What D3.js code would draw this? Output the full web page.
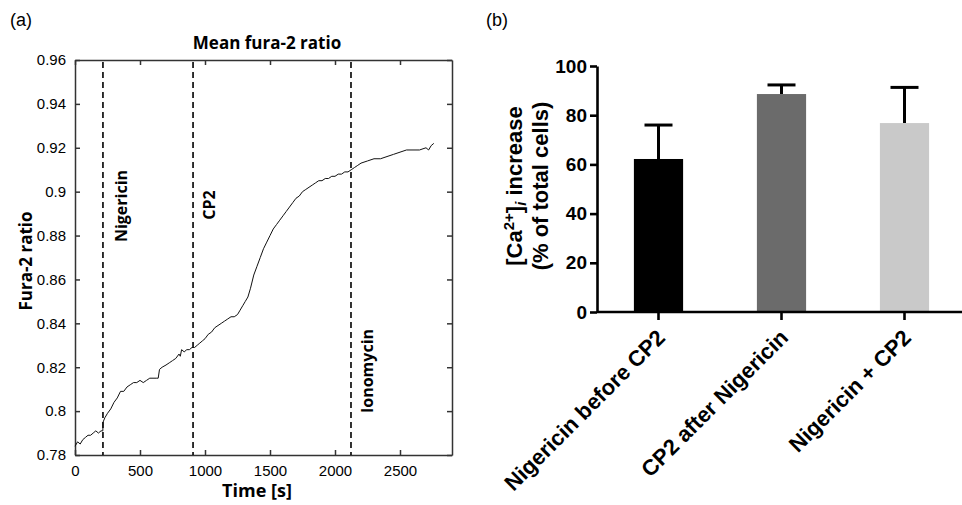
<!DOCTYPE html>
<html>
<head>
<meta charset="utf-8">
<script src="https://cdn.jsdelivr.net/npm/d3@7"></script>
<style>
    body { margin: 0; background: #fff; }
    svg { display: block; font-family: "Liberation Sans", Arial, sans-serif; }
</style>
</head>
<body>
<div id="chart"></div>
<script>
// panel (a) trace
var timeS = [0, 20, 40, 60, 80, 100, 120, 140, 160, 180, 200, 214, 216, 230, 250, 275, 300, 325, 350, 375,
    400, 425, 450, 475, 500, 525, 550, 575, 600, 625, 640, 650, 670, 700, 725, 750, 775, 800, 810, 820,
    840, 860, 880, 900, 920, 940, 960, 980, 1000, 1025, 1050, 1075, 1100, 1125, 1150, 1175, 1200, 1225, 1250, 1270,
    1290, 1310, 1330, 1350, 1375, 1400, 1425, 1450, 1475, 1500, 1525, 1550, 1575, 1600, 1625, 1650, 1675, 1700, 1725, 1750,
    1775, 1800, 1825, 1850, 1875, 1900, 1925, 1950, 1975, 2000, 2025, 2050, 2075, 2100, 2125, 2150, 2175, 2200, 2250, 2300,
    2350, 2400, 2450, 2500, 2550, 2600, 2650, 2700, 2720, 2740, 2760];
var ratio = [0.784, 0.786, 0.785, 0.787, 0.788, 0.789, 0.789, 0.790, 0.791, 0.790, 0.791, 0.791, 0.795, 0.797, 0.799, 0.801, 0.804, 0.806, 0.809, 0.809,
    0.811, 0.812, 0.813, 0.813, 0.814, 0.813, 0.814, 0.815, 0.815, 0.815, 0.815, 0.819, 0.820, 0.821, 0.822, 0.823, 0.824, 0.826, 0.825, 0.828,
    0.827, 0.828, 0.828, 0.829, 0.829, 0.830, 0.831, 0.832, 0.833, 0.835, 0.836, 0.838, 0.839, 0.840, 0.841, 0.842, 0.843, 0.843, 0.844, 0.846,
    0.848, 0.850, 0.852, 0.856, 0.862, 0.866, 0.870, 0.874, 0.877, 0.880, 0.883, 0.885, 0.887, 0.889, 0.891, 0.893, 0.895, 0.897, 0.898, 0.900,
    0.901, 0.902, 0.903, 0.904, 0.905, 0.905, 0.906, 0.906, 0.907, 0.907, 0.908, 0.908, 0.909, 0.909, 0.910, 0.911, 0.912, 0.913, 0.914, 0.915,
    0.915, 0.916, 0.917, 0.918, 0.919, 0.919, 0.919, 0.920, 0.919, 0.921, 0.922];
var markerNames = ["Nigericin", "CP2", "Ionomycin"];
var markerTimes = [215, 908, 2123];
var xTicksA = [0, 500, 1000, 1500, 2000, 2500];
var yTicksA = [0.78, 0.8, 0.82, 0.84, 0.86, 0.88, 0.9, 0.92, 0.94, 0.96];

// panel (b) bars
var groups = ["Nigericin before CP2", "CP2 after Nigericin", "Nigericin + CP2"];
var meanPct = [62.2, 88.6, 76.8];
var errTop = [76.0, 92.3, 91.3];
var barColors = ["#000000", "#6b6b6b", "#c9c9c9"];
var yTicksB = [0, 20, 40, 60, 80, 100];

var labelFont = "'Open Sans', 'Liberation Sans', sans-serif";

var svg = d3.select("#chart").append("svg")
    .attr("width", 962)
    .attr("height", 505);

// ---------- panel (a) ----------
var a = { left: 75, right: 452, top: 60, bottom: 455 };
var xA = d3.scaleLinear().domain([0, 2900]).range([a.left, a.right]);
var yA = d3.scaleLinear().domain([0.78, 0.96]).range([a.bottom, a.top]);

svg.append("text").attr("x", 10).attr("y", 26)
    .attr("font-size", 18).text("(a)");

svg.append("text").attr("x", 267).attr("y", 49)
    .attr("text-anchor", "middle").attr("font-size", 17).attr("font-weight", "bold")
    .attr("font-family", labelFont)
    .text("Mean fura-2 ratio");

var axBottom = svg.append("g").attr("transform", "translate(0," + a.bottom + ")")
    .call(d3.axisBottom(xA).tickValues(xTicksA).tickSizeInner(-5).tickSizeOuter(0).tickPadding(10)
        .tickFormat(d3.format("d")));
var axTop = svg.append("g").attr("transform", "translate(0," + a.top + ")")
    .call(d3.axisTop(xA).tickValues(xTicksA).tickSizeInner(-5).tickSizeOuter(0).tickFormat(""));
var axLeft = svg.append("g").attr("transform", "translate(" + a.left + ",0)")
    .call(d3.axisLeft(yA).tickValues(yTicksA).tickSizeInner(-5).tickSizeOuter(0).tickPadding(9)
        .tickFormat(function(d) { return String(+d.toFixed(2)); }));
var axRight = svg.append("g").attr("transform", "translate(" + a.right + ",0)")
    .call(d3.axisRight(yA).tickValues(yTicksA).tickSizeInner(-5).tickSizeOuter(0).tickFormat(""));

[axBottom, axTop, axLeft, axRight].forEach(function(g) {
    g.select(".domain").attr("stroke", "#333").attr("stroke-width", 1.5);
    g.selectAll(".tick line").attr("stroke", "#333").attr("stroke-width", 1.5);
    g.selectAll(".tick text").attr("font-size", 15).attr("fill", "#000")
        .attr("font-family", "Liberation Sans, Arial, sans-serif");
});

svg.append("text").attr("x", 257).attr("y", 497)
    .attr("text-anchor", "middle").attr("font-size", 18).attr("font-weight", "bold")
    .attr("font-family", labelFont)
    .text("Time [s]");

svg.append("text")
    .attr("transform", "translate(32,261) rotate(-90)")
    .attr("text-anchor", "middle").attr("font-size", 17).attr("font-weight", "bold")
    .attr("font-family", labelFont)
    .text("Fura-2 ratio");

svg.selectAll(".marker").data(markerTimes).enter().append("line")
    .attr("class", "marker")
    .attr("x1", function(d) { return xA(d); }).attr("x2", function(d) { return xA(d); })
    .attr("y1", a.top + 2).attr("y2", a.bottom)
    .attr("stroke", "#000").attr("stroke-width", 1.6).attr("stroke-dasharray", "6,4");

var markerY = [206, 205, 371];
var markerDx = [24, 22, 22];
svg.selectAll(".markerLabel").data(markerNames).enter().append("text")
    .attr("class", "markerLabel")
    .attr("transform", function(d, i) {
        return "translate(" + (xA(markerTimes[i]) + markerDx[i]) + "," + markerY[i] + ") rotate(-90)";
    })
    .attr("text-anchor", "middle").attr("font-size", 16).attr("font-weight", "bold")
    .attr("font-family", labelFont)
    .text(function(d) { return d; });

var line = d3.line()
    .x(function(d, i) { return xA(timeS[i]); })
    .y(function(d) { return yA(d); });

svg.append("path").datum(ratio)
    .attr("d", line)
    .attr("fill", "none").attr("stroke", "#111").attr("stroke-width", 1);

// ---------- panel (b) ----------
var b = { left: 597, right: 966, top: 66, bottom: 312 };
var xB = d3.scaleBand().domain(groups).range([b.left, b.right]).paddingInner(0.6).paddingOuter(0.3);
var yB = d3.scaleLinear().domain([0, 100]).range([b.bottom, b.top]);

svg.append("text").attr("x", 486).attr("y", 26)
    .attr("font-size", 18).text("(b)");

var capW = 28;
svg.selectAll(".errLine").data(groups).enter().append("line")
    .attr("class", "errLine")
    .attr("x1", function(d) { return xB(d) + xB.bandwidth() / 2; })
    .attr("x2", function(d) { return xB(d) + xB.bandwidth() / 2; })
    .attr("y1", function(d, i) { return yB(meanPct[i]); })
    .attr("y2", function(d, i) { return yB(errTop[i]); })
    .attr("stroke", "#000").attr("stroke-width", 3);
svg.selectAll(".errCap").data(groups).enter().append("line")
    .attr("class", "errCap")
    .attr("x1", function(d) { return xB(d) + xB.bandwidth() / 2 - capW / 2; })
    .attr("x2", function(d) { return xB(d) + xB.bandwidth() / 2 + capW / 2; })
    .attr("y1", function(d, i) { return yB(errTop[i]); })
    .attr("y2", function(d, i) { return yB(errTop[i]); })
    .attr("stroke", "#000").attr("stroke-width", 3);

svg.selectAll(".bar").data(groups).enter().append("rect")
    .attr("class", "bar")
    .attr("x", function(d) { return xB(d); })
    .attr("width", xB.bandwidth())
    .attr("y", function(d, i) { return yB(meanPct[i]); })
    .attr("height", function(d, i) { return b.bottom - yB(meanPct[i]); })
    .attr("fill", function(d, i) { return barColors[i]; });

var axB = svg.append("g").attr("transform", "translate(0," + b.bottom + ")")
    .call(d3.axisBottom(xB).tickSizeInner(8).tickSizeOuter(0).tickFormat(""));
var ayB = svg.append("g").attr("transform", "translate(" + b.left + ",0)")
    .call(d3.axisLeft(yB).tickValues(yTicksB).tickSizeInner(7).tickSizeOuter(0).tickPadding(3));

[axB, ayB].forEach(function(g) {
    g.select(".domain").attr("stroke", "#000").attr("stroke-width", 2.6);
    g.selectAll(".tick line").attr("stroke", "#000").attr("stroke-width", 2.6);
    g.selectAll(".tick text").attr("font-size", 19).attr("font-weight", "bold").attr("fill", "#000")
        .attr("font-family", "Liberation Sans, Arial, sans-serif");
});
axB.select(".domain").attr("d", "M" + b.left + ",0H" + b.right);

svg.selectAll(".groupLabel").data(groups).enter().append("text")
    .attr("class", "groupLabel")
    .attr("transform", function(d) {
        var cx = xB(d) + xB.bandwidth() / 2;
        return "translate(" + (cx + 8) + "," + (b.bottom + 27) + ") rotate(-45)";
    })
    .attr("text-anchor", "end").attr("font-size", 22).attr("font-weight", "bold")
    .text(function(d) { return d; });

var yLab = svg.append("text")
    .attr("transform", "translate(522,186) rotate(-90)")
    .attr("text-anchor", "middle").attr("font-size", 22).attr("font-weight", "bold");
yLab.append("tspan").text("[Ca");
yLab.append("tspan").attr("dy", -8).attr("font-size", 15).text("2+");
yLab.append("tspan").attr("dy", 8).text("]");
yLab.append("tspan").attr("dy", 4).attr("font-size", 15).attr("font-style", "italic").text("i");
yLab.append("tspan").attr("dy", -4).text(" increase");

svg.append("text")
    .attr("transform", "translate(548,186) rotate(-90)")
    .attr("text-anchor", "middle").attr("font-size", 22).attr("font-weight", "bold")
    .text("(% of total cells)");
</script>
</body>
</html>
